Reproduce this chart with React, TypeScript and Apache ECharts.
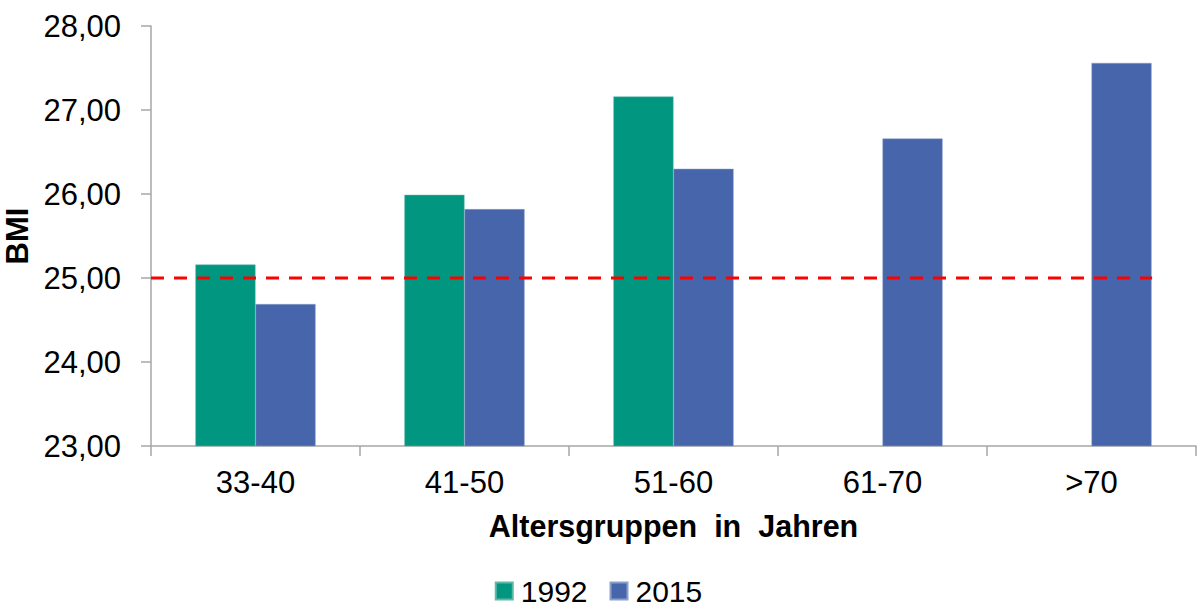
import React, { useEffect, useRef } from "react";
import * as echarts from "echarts";

const categories = ["33-40", "41-50", "51-60", "61-70", ">70"];
const series1992 = [25.16, 25.99, 27.16, null, null];
const series2015 = [24.69, 25.82, 26.3, 26.66, 27.56];
const referenceLine = [[0, 25], [4.79, 25]];
const yMin = 23;
const yMax = 28;
const yInterval = 1;

const FONT = "Liberation Sans, Arial, sans-serif";

export default function App() {
  const ref = useRef<HTMLDivElement>(null);
  useEffect(() => {
    document.body.style.margin = "0";
    const chart = echarts.init(ref.current!, null, { renderer: "svg" });
    chart.setOption({
      animation: false,
      textStyle: { fontFamily: FONT },
      grid: {
        left: 151,
        right: 1,
        top: 26,
        bottom: 161,
        containLabel: false,
        outerBoundsMode: "none",
      },
      legend: {
        data: ["1992", "2015"],
        left: "center",
        top: 571,
        icon: "rect",
        itemWidth: 17,
        itemHeight: 17,
        itemGap: 22,
        textStyle: { fontSize: 30, color: "#000", fontFamily: FONT, padding: [0, 0, 0, 3] },
      },
      xAxis: [
        {
          type: "category",
          data: categories,
          name: "Altersgruppen  in  Jahren",
          nameLocation: "middle",
          nameGap: 64,
          nameTextStyle: { fontSize: 30.5, fontWeight: "bold", color: "#000", fontFamily: FONT },
          axisLine: { lineStyle: { color: "#a6a6a6", width: 1.5 } },
          axisTick: { show: true, length: 10, lineStyle: { color: "#a6a6a6", width: 1.5 } },
          axisLabel: { fontSize: 31, color: "#000", margin: 21, fontFamily: FONT },
        },
        {
          type: "value",
          min: 0,
          max: 5,
          show: false,
        },
      ],
      yAxis: {
        type: "value",
        min: yMin,
        max: yMax,
        interval: yInterval,
        name: "BMI",
        nameLocation: "middle",
        nameGap: 112,
        nameRotate: 90,
        nameTextStyle: { fontSize: 31, fontWeight: "bold", color: "#000", fontFamily: FONT },
        splitLine: { show: false },
        axisLine: { show: true, lineStyle: { color: "#a6a6a6", width: 1.5 } },
        axisTick: { show: true, length: 10, lineStyle: { color: "#a6a6a6", width: 1.5 } },
        axisLabel: {
          fontSize: 31,
          color: "#000",
          margin: 30,
          fontFamily: FONT,
          formatter: (v: number) => v.toFixed(2).replace(".", ","),
        },
      },
      series: [
        {
          name: "1992",
          type: "bar",
          data: series1992,
          barGap: "0%",
          barCategoryGap: "42.5%",
          itemStyle: { color: "#009680", borderColor: "#5fb8a8", borderWidth: 0.5 },
        },
        {
          name: "2015",
          type: "bar",
          data: series2015,
          barGap: "0%",
          barCategoryGap: "42.5%",
          itemStyle: { color: "#4665AA", borderColor: "#8a9fcc", borderWidth: 0.5 },
        },
        {
          name: "ref",
          type: "line",
          xAxisIndex: 1,
          data: referenceLine,
          symbol: "none",
          lineStyle: { color: "#ff0000", width: 3, type: [13, 10] },
          z: 5,
        },
      ],
    });
    return () => chart.dispose();
  }, []);
  return <div ref={ref} style={{ width: 1197, height: 607 }} />;
}
